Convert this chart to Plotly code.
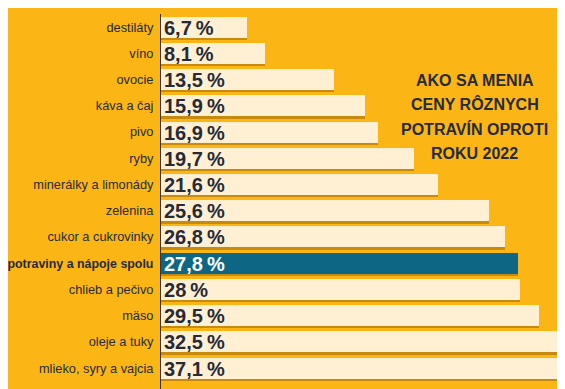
import plotly.graph_objects as go

categories = ["destiláty", "víno", "ovocie", "káva a čaj", "pivo", "ryby",
              "minerálky a limonády", "zelenina", "cukor a cukrovinky",
              "potraviny a nápoje spolu", "chlieb a pečivo", "mäso",
              "oleje a tuky", "mlieko, syry a vajcia"]
values = [6.7, 8.1, 13.5, 15.9, 16.9, 19.7, 21.6, 25.6, 26.8, 27.8, 28, 29.5, 32.5, 37.1]
highlight = "potraviny a nápoje spolu"
title_lines = ["AKO SA MENIA", "CENY RÔZNYCH", "POTRAVÍN OPROTI", "ROKU 2022"]

BG = "#FBB616"
BAR = "#FFF0D4"
HIGH = "#0D6784"
SHADOW = "#C68A0E"
DARK = "#262A36"
FONT = "Liberation Sans, Arial, sans-serif"

idx = list(range(len(categories)))
labels = [f"{v:g}".replace(".", ",") + "\u2009%" for v in values]
colors = [HIGH if c == highlight else BAR for c in categories]
txtcolors = ["white" if c == highlight else DARK for c in categories]
ticktext = [f'<b><span style="font-size:12.4px">{c}</span></b>' if c == highlight else c
            for c in categories]

fig = go.Figure()
# drop shadow
fig.add_trace(go.Bar(
    x=values, y=[i + 0.09 for i in idx], orientation="h", width=0.8,
    marker=dict(color=SHADOW, line=dict(width=0)), hoverinfo="skip",
    showlegend=False))
fig.add_trace(go.Bar(
    x=values, y=idx, orientation="h", width=0.8,
    marker=dict(color=colors, line=dict(width=0)),
    text=labels, textposition="inside", insidetextanchor="start",
    constraintext="none",
    textfont=dict(family=FONT, size=20, color=txtcolors, weight="bold"),
    showlegend=False))

title_y = [0.824, 0.760, 0.693, 0.629]
for line, yy in zip(title_lines, title_y):
    fig.add_annotation(
        xref="paper", yref="paper", x=0.777, y=yy,
        xanchor="center", yanchor="middle",
        text=line, showarrow=False, align="center",
        font=dict(family=FONT, size=16, color=DARK, weight="bold"))

fig.update_layout(
    width=565, height=389,
    margin=dict(l=153, r=8, t=6, b=8),
    paper_bgcolor=BG, plot_bgcolor=BG,
    barmode="overlay", bargap=0,
    xaxis=dict(range=[0, 31.5], visible=False, fixedrange=True),
    yaxis=dict(range=[13.8, -0.5], tickmode="array", tickvals=idx,
               ticktext=ticktext, showgrid=False, zeroline=False,
               showline=True, linecolor="#3A3020", linewidth=1,
               ticks="", ticklabelstandoff=4, automargin=False,
               tickfont=dict(family=FONT, size=12.8, color=DARK)),
)

fig.write_html("out.html")
